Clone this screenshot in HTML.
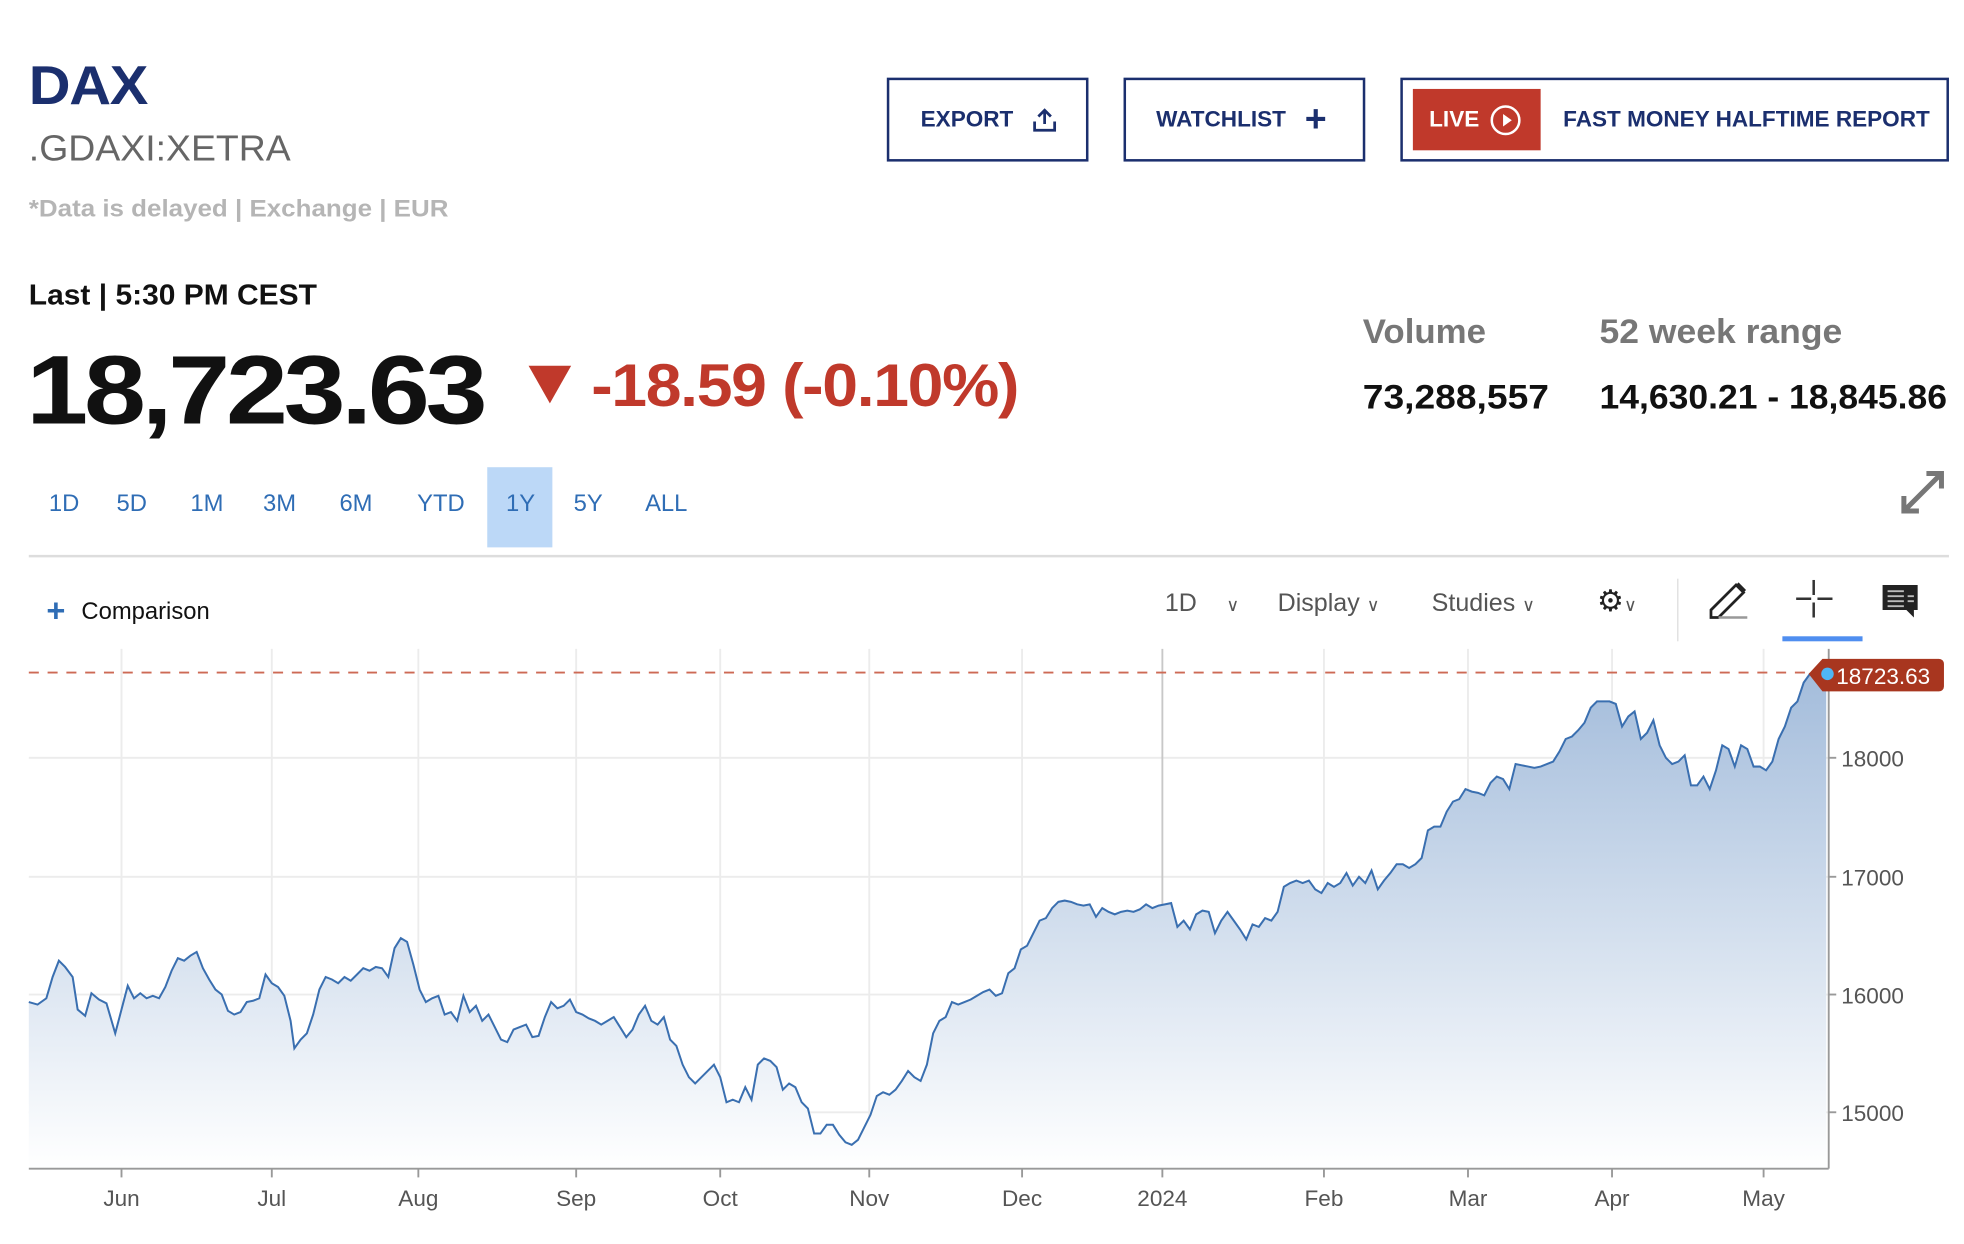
<!DOCTYPE html>
<html><head><meta charset="utf-8"><style>
html,body{margin:0;padding:0;background:#fff;width:1964px;height:1244px;overflow:hidden}
#w{position:absolute;left:0;top:0;width:1568px;height:993px;transform:scale(1.25255);transform-origin:0 0;font-family:"Liberation Sans",sans-serif}
.a{position:absolute;white-space:nowrap}
.btn{position:absolute;border:2px solid #1b2f6e;box-sizing:border-box;color:#1b2f6e;font-weight:bold;font-size:18px;display:flex;align-items:center}
.tf{position:absolute;top:392px;color:#2f6db5;font-size:19px}
.sx{transform-origin:0 0}
</style></head><body><div id="w">
<div class="a sx" style="left:23px;top:44px;font-size:44px;font-weight:bold;color:#1b2f6e;letter-spacing:-1px;transform:scaleX(1.05)">DAX</div>
<div class="a sx" style="left:23px;top:103px;font-size:29px;color:#666;transform:scaleX(1.03)">.GDAXI:XETRA</div>
<div class="a sx" style="left:23px;top:157px;font-size:19px;color:#b5b5b5;font-weight:bold;transform:scaleX(1.09)">*Data is delayed | Exchange | EUR</div>
<div class="btn" style="left:708px;top:62px;width:161px;height:67px;padding-left:25px">EXPORT <svg width="22" height="22" style="margin-left:14px" viewBox="0 0 22 22"><path d="M11 3v11M6 8l5-5 5 5M3 12v7h16v-7" fill="none" stroke="#1b2f6e" stroke-width="2.2"/></svg></div>
<div class="btn" style="left:897px;top:62px;width:193px;height:67px;padding-left:24px">WATCHLIST <span style="font-size:30px;margin-left:15px;font-weight:bold">+</span></div>
<div class="btn" style="left:1118px;top:62px;width:438px;height:67px;padding-left:8px"><div style="background:#c0392b;color:#fff;width:102px;height:49px;display:flex;align-items:center;padding-left:13px;box-sizing:border-box">LIVE <span style="display:inline-block;width:24px;height:24px;border:2px solid #fff;border-radius:50%;margin-left:9px;position:relative;box-sizing:border-box"><span style="position:absolute;left:8px;top:5px;border-left:7px solid #fff;border-top:5px solid transparent;border-bottom:5px solid transparent"></span></span></div><span style="margin-left:18px">FAST MONEY HALFTIME REPORT</span></div>
<div class="a sx" style="left:23px;top:222px;font-size:23px;font-weight:bold;color:#111;transform:scaleX(1.04)">Last | 5:30 PM CEST</div>
<div class="a sx" style="left:21px;top:266px;font-size:78px;font-weight:bold;color:#111;letter-spacing:-3px;transform:scaleX(1.14)">18,723.63</div>
<div class="a" style="left:422px;top:292px;width:0;height:0;border-left:17px solid transparent;border-right:17px solid transparent;border-top:30px solid #c0392b"></div>
<div class="a sx" style="left:472px;top:281px;font-size:48px;font-weight:bold;color:#c0392b;letter-spacing:-1px;transform:scaleX(1.07)">-18.59 (-0.10%)</div>
<div class="a sx" style="left:1088px;top:250px;font-size:27px;font-weight:bold;color:#777;transform:scaleX(1.03)">Volume</div>
<div class="a sx" style="left:1277px;top:250px;font-size:27px;font-weight:bold;color:#777;transform:scaleX(1.05)">52 week range</div>
<div class="a sx" style="left:1088px;top:302px;font-size:27px;font-weight:bold;color:#111;transform:scaleX(1.1)">73,288,557</div>
<div class="a sx" style="left:1277px;top:302px;font-size:27px;font-weight:bold;color:#111;transform:scaleX(1.05)">14,630.21 - 18,845.86</div>
<div class="a" style="left:389px;top:373px;width:52px;height:64px;background:#bcd8f7"></div>
<div class="tf" style="left:39px">1D</div><div class="tf" style="left:93px">5D</div><div class="tf" style="left:152px">1M</div><div class="tf" style="left:210px">3M</div><div class="tf" style="left:271px">6M</div><div class="tf" style="left:333px">YTD</div><div class="tf" style="left:404px">1Y</div><div class="tf" style="left:458px">5Y</div><div class="tf" style="left:515px">ALL</div>
<svg class="a" style="left:1514px;top:372px" width="42" height="42" viewBox="0 0 42 42"><path d="M6 36L36 6M24 6h12v12M6 24v12h12" fill="none" stroke="#777" stroke-width="4"/></svg>
<div class="a" style="left:23px;top:443px;width:1533px;height:2px;background:#ddd"></div>
<div class="a" style="left:37px;top:472px;font-size:26px;color:#2f6db5;font-weight:bold">+</div>
<div class="a" style="left:65px;top:478px;font-size:19px;color:#111">Comparison</div>
<div class="a" style="left:930px;top:471px;font-size:20px;color:#555">1D <span style="margin-left:18px;font-size:14px">∨</span></div>
<div class="a" style="left:1020px;top:471px;font-size:20px;color:#555">Display <span style="font-size:14px">∨</span></div>
<div class="a" style="left:1143px;top:471px;font-size:20px;color:#555">Studies <span style="font-size:14px">∨</span></div>
<div class="a" style="left:1275px;top:466px;font-size:24px;color:#222">⚙<span style="font-size:14px;color:#555">∨</span></div>
<div class="a" style="left:1339px;top:462px;width:1px;height:50px;background:#ddd"></div>
<svg class="a" style="left:1362px;top:462px" width="36" height="36" viewBox="0 0 36 36"><path d="M4 31v-6L24 5l6 6-20 20z" fill="none" stroke="#222" stroke-width="2.2"/><path d="M24 5l6 6 2-2-6-6z" fill="#222"/><path d="M10 31h23" stroke="#999" stroke-width="2"/></svg>
<svg class="a" style="left:1432px;top:463px" width="32" height="32"><path d="M16 0v12M16 18v12M2 15h12M19 15h12" stroke="#333" stroke-width="2"/></svg>
<div class="a" style="left:1423px;top:508px;width:64px;height:4px;background:#4f8ef0"></div>
<svg class="a" style="left:1502px;top:465px" width="30" height="30" viewBox="0 0 30 30"><path d="M1 2h28v20h-3v6l-6-6H1z" fill="#222"/><path d="M5 7h13M5 11h13M5 15h13M5 19h13M21 11h5M21 15h5" stroke="#bbb" stroke-width="1.5"/></svg>
<svg class="a" style="left:0;top:0" width="1568" height="993">
<defs><linearGradient id="g" x1="0" y1="0" x2="0" y2="1"><stop offset="0" stop-color="#a3bcdb"/><stop offset="1" stop-color="#ffffff"/></linearGradient></defs>
<g stroke="#ececec" stroke-width="1.5">
<line x1="23" x2="1460" y1="605" y2="605"/><line x1="23" x2="1460" y1="700" y2="700"/><line x1="23" x2="1460" y1="794" y2="794"/><line x1="23" x2="1460" y1="888" y2="888"/>
<line x1="97" x2="97" y1="518" y2="933"/><line x1="217" x2="217" y1="518" y2="933"/><line x1="334" x2="334" y1="518" y2="933"/><line x1="460" x2="460" y1="518" y2="933"/><line x1="575" x2="575" y1="518" y2="933"/><line x1="694" x2="694" y1="518" y2="933"/><line x1="816" x2="816" y1="518" y2="933"/><line x1="1057" x2="1057" y1="518" y2="933"/><line x1="1172" x2="1172" y1="518" y2="933"/><line x1="1287" x2="1287" y1="518" y2="933"/><line x1="1408" x2="1408" y1="518" y2="933"/>
</g>
<line x1="928" x2="928" y1="518" y2="933" stroke="#c8c8c8" stroke-width="1.5"/>
<polygon id="pa" fill="url(#g)" stroke="none" points=""/>
<polyline id="pl" fill="none" stroke="#3a6fb0" stroke-width="1.6" points=""/>
<line x1="23" x2="1450" y1="537" y2="537" stroke="#cd6a55" stroke-width="1.5" stroke-dasharray="8,7"/>
<line x1="1460" x2="1460" y1="518" y2="933" stroke="#999" stroke-width="1.5"/>
<line x1="23" x2="1460" y1="933" y2="933" stroke="#999" stroke-width="1.5"/>
<g stroke="#999" stroke-width="1.5"><line x1="97" x2="97" y1="933" y2="940"/><line x1="217" x2="217" y1="933" y2="940"/><line x1="334" x2="334" y1="933" y2="940"/><line x1="460" x2="460" y1="933" y2="940"/><line x1="575" x2="575" y1="933" y2="940"/><line x1="694" x2="694" y1="933" y2="940"/><line x1="816" x2="816" y1="933" y2="940"/><line x1="928" x2="928" y1="933" y2="940"/><line x1="1057" x2="1057" y1="933" y2="940"/><line x1="1172" x2="1172" y1="933" y2="940"/><line x1="1287" x2="1287" y1="933" y2="940"/><line x1="1408" x2="1408" y1="933" y2="940"/>
<line x1="1460" x2="1466" y1="605" y2="605"/><line x1="1460" x2="1466" y1="700" y2="700"/><line x1="1460" x2="1466" y1="794" y2="794"/><line x1="1460" x2="1466" y1="888" y2="888"/></g>
<g font-family="Liberation Sans,sans-serif" font-size="18" fill="#555">
<text x="1470" y="612">18000</text><text x="1470" y="707">17000</text><text x="1470" y="801">16000</text><text x="1470" y="895">15000</text>
<g text-anchor="middle"><text x="97" y="963">Jun</text><text x="217" y="963">Jul</text><text x="334" y="963">Aug</text><text x="460" y="963">Sep</text><text x="575" y="963">Oct</text><text x="694" y="963">Nov</text><text x="816" y="963">Dec</text><text x="928" y="963">2024</text><text x="1057" y="963">Feb</text><text x="1172" y="963">Mar</text><text x="1287" y="963">Apr</text><text x="1408" y="963">May</text></g>
</g>
<path d="M1444 538l11-12h93a4 4 0 0 1 4 4v18a4 4 0 0 1-4 4h-93z" fill="#a8361f"/>
<circle cx="1459" cy="538" r="5" fill="#4fb6f5"/>
<text x="1466" y="546" font-family="Liberation Sans,sans-serif" font-size="18" fill="#fff">18723.63</text>
</svg>
</div>
<script>
var d="23,800 30,802 37,797 42,780 47,767 52,772 58,780 62,806 68,811 73,793 79,798 85,801 92,825 97,806 102,787 107,797 112,793 117,797 122,795 127,797 132,788 137,775 142,765 147,767 152,763 157,760 162,773 167,782 172,790 177,794 182,807 187,810 192,808 197,800 202,799 207,797 212,778 217,785 222,788 227,795 232,815 235,837 240,830 245,825 250,810 255,790 260,780 265,782 270,785 275,780 280,783 285,778 290,773 295,775 300,772 305,773 310,780 315,757 320,749 325,752 330,770 335,790 340,800 345,797 350,795 355,810 360,808 365,815 370,795 375,808 380,803 385,815 390,810 395,820 400,830 405,832 410,822 415,820 420,818 425,828 430,827 435,812 440,800 445,805 450,803 455,798 460,808 465,810 470,813 475,815 480,818 485,815 490,812 495,820 500,828 505,822 510,810 515,803 520,815 525,818 530,812 535,830 540,835 545,850 550,860 555,865 560,860 565,855 570,850 575,860 580,880 585,878 590,880 595,868 600,878 605,850 610,845 615,847 620,852 625,870 630,865 635,868 640,880 645,885 650,905 655,905 660,898 665,898 670,906 675,912 680,914 685,910 690,900 695,890 700,875 705,872 710,874 715,870 720,863 725,855 730,860 735,863 740,850 745,825 750,815 755,812 760,800 765,802 770,800 775,798 780,795 785,792 790,790 795,795 800,793 805,777 810,773 815,758 820,755 825,745 830,735 835,733 840,725 845,720 850,719 855,720 860,722 865,723 870,722 875,732 880,725 885,728 890,730 895,728 900,727 905,728 910,726 915,722 920,725 925,723 930,722 935,721 940,740 945,735 950,742 955,730 960,727 965,728 970,745 975,735 980,728 985,735 990,742 995,750 1000,738 1005,740 1010,733 1015,735 1020,728 1025,708 1030,705 1035,703 1040,705 1045,703 1050,710 1055,713 1060,705 1065,708 1070,705 1075,697 1080,707 1085,700 1090,705 1095,695 1100,710 1105,703 1110,697 1115,690 1120,690 1125,693 1130,690 1135,685 1140,663 1145,660 1150,660 1155,648 1160,640 1165,638 1170,630 1175,632 1180,633 1185,635 1190,625 1195,620 1200,622 1205,630 1210,610 1215,611 1220,612 1225,613 1230,612 1235,610 1240,608 1245,600 1250,590 1255,588 1260,583 1265,577 1270,565 1275,560 1280,560 1285,560 1290,562 1295,580 1300,572 1305,568 1310,590 1315,585 1320,575 1325,595 1330,605 1335,610 1340,608 1345,603 1350,627 1355,627 1360,620 1365,630 1370,615 1375,595 1380,598 1385,612 1390,595 1395,598 1400,612 1405,612 1410,615 1415,608 1420,590 1425,580 1430,565 1435,560 1440,545 1445,538 1450,535 1455,537";
document.getElementById('pl').setAttribute('points',d);
document.getElementById('pa').setAttribute('points',"23,933 "+d+" 1458,537 1458,933");
</script>
</body></html>
